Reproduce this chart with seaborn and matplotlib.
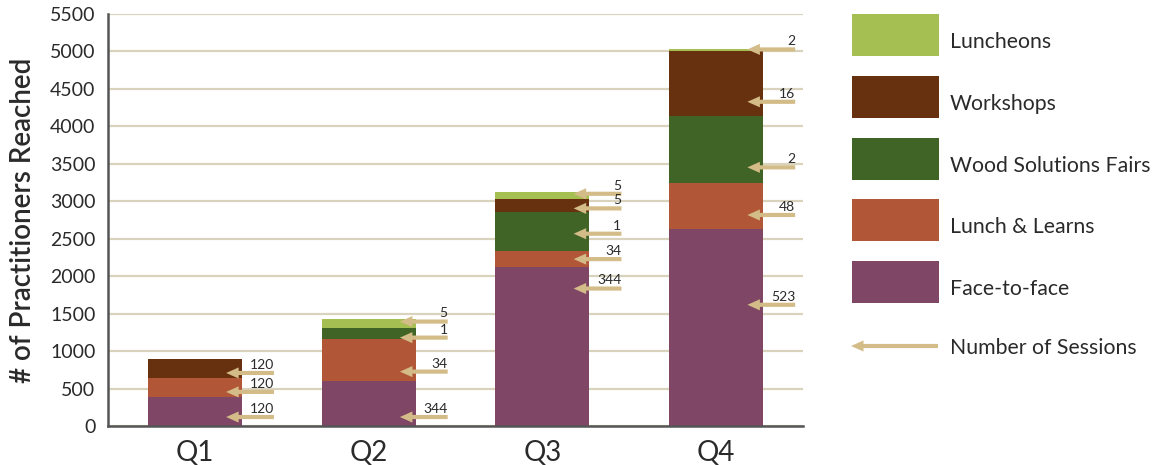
import matplotlib
matplotlib.use("Agg")
import matplotlib.pyplot as plt
from matplotlib.patches import Rectangle
import seaborn as sns
import pandas as pd
import numpy as np

# ---------------- data ----------------
quarters = ["Q1", "Q2", "Q3", "Q4"]
series_names = ["Face-to-face", "Lunch & Learns", "Wood Solutions Fairs", "Workshops", "Luncheons"]
face_to_face = [385, 600, 2125, 2635]
lunch_learns = [255, 560, 205, 615]
wood_fairs = [0, 150, 530, 895]
workshops = [255, 0, 175, 860]
luncheons = [0, 120, 95, 25]

# number of sessions (None = no arrow) and the level each arrow points at
face_sessions = [120, 344, 344, 523]
face_arrow_at = [120, 120, 1835, 1618]
ll_sessions = [120, 34, 34, 48]
ll_arrow_at = [455, 726, 2228, 2817]
wsf_sessions = [None, 1, 1, 2]
wsf_arrow_at = [None, 1180, 2567, 3453]
ws_sessions = [120, None, 5, 16]
ws_arrow_at = [708, None, 2905, 4328]
lun_sessions = [None, 5, 5, 2]
lun_arrow_at = [None, 1394, 3100, 5027]

y_ticks = [0, 500, 1000, 1500, 2000, 2500, 3000, 3500, 4000, 4500, 5000, 5500]

# ---------------- style ----------------
sns.set_theme(style="white")
plt.rcParams["font.family"] = ["Lato", "DejaVu Sans"]

colors = {
    "Face-to-face": "#804665",
    "Lunch & Learns": "#b15636",
    "Wood Solutions Fairs": "#3f6425",
    "Workshops": "#67300e",
    "Luncheons": "#a6bf52",
}
arrow_color = "#d4bc88"
grid_color = "#d9d3bd"
spine_color = "#555555"
text_color = "#2a2a2a"

fig = plt.figure(figsize=(11.64, 4.65), dpi=100)
ax = fig.add_axes([108 / 1164, 39 / 465, 695 / 1164, 412 / 465])

values = [face_to_face, lunch_learns, wood_fairs, workshops, luncheons]
cum = np.cumsum(np.array(values), axis=0)

# draw stacked bars from the top down so lower segments overlay
for i in range(len(series_names) - 1, -1, -1):
    df = pd.DataFrame({"Quarter": quarters, "Total": cum[i]})
    sns.barplot(data=df, x="Quarter", y="Total", color=colors[series_names[i]],
                width=0.54, saturation=1, ax=ax, zorder=2, linewidth=0)

ax.set_xlim(-0.5, 3.5)
ax.set_ylim(0, 5500)
ax.set_yticks(y_ticks)
ax.set_yticklabels([str(t) for t in y_ticks], fontsize=14, color=text_color)
ax.tick_params(axis="y", length=0, pad=9)
ax.tick_params(axis="x", length=0, pad=10, labelsize=20, labelcolor=text_color)
ax.yaxis.grid(True, color=grid_color, linewidth=1.6, zorder=0)
ax.set_axisbelow(True)
for s in ["top", "right"]:
    ax.spines[s].set_visible(False)
for s in ["left", "bottom"]:
    ax.spines[s].set_color(spine_color)
    ax.spines[s].set_linewidth(1.8)
    ax.spines[s].set_zorder(3)
ax.set_xlabel("")
ax.set_ylabel("# of Practitioners Reached", fontsize=20, color=text_color, fontweight="semibold")
ax.yaxis.set_label_coords(-0.104, 0.5)

arrow_style = dict(arrowstyle="simple,head_length=0.9,head_width=0.8,tail_width=0.3",
                   color=arrow_color, mutation_scale=10, shrinkA=0, shrinkB=0, lw=0)

sess_lists = [(face_sessions, face_arrow_at), (ll_sessions, ll_arrow_at),
              (wsf_sessions, wsf_arrow_at), (ws_sessions, ws_arrow_at),
              (lun_sessions, lun_arrow_at)]
for sess, lev in sess_lists:
    for qi in range(len(quarters)):
        if sess[qi] is None:
            continue
        tip = qi + 0.18
        tail = qi + 0.455
        ax.annotate("", xy=(tip, lev[qi]), xytext=(tail, lev[qi]),
                    arrowprops=arrow_style, zorder=4, annotation_clip=False)
        ax.annotate(str(sess[qi]), xy=(tail, lev[qi]), xytext=(0, 1.5),
                    textcoords="offset points", ha="right", va="bottom",
                    fontsize=10, color=text_color, zorder=5, annotation_clip=False)

# ---------------- legend ----------------
lax = fig.add_axes([0, 0, 1, 1], zorder=-1)
lax.set_xlim(0, 1164)
lax.set_ylim(465, 0)
lax.axis("off")
legend_order = ["Luncheons", "Workshops", "Wood Solutions Fairs", "Lunch & Learns", "Face-to-face"]
for k, name in enumerate(legend_order):
    top = 14 + k * 61.8
    lax.add_patch(Rectangle((852, top), 87, 42, color=colors[name], lw=0))
    lax.text(950, top + 28, name, fontsize=15.3, color=text_color, va="center", ha="left")
lax.annotate("", xy=(851, 346), xytext=(938, 346),
             arrowprops=arrow_style)
lax.text(950, 348, "Number of Sessions", fontsize=15.3, color=text_color, va="center", ha="left")

fig.savefig("out.png", dpi=100)
